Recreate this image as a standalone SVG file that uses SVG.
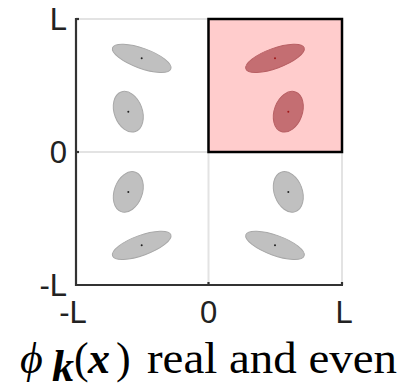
<svg xmlns="http://www.w3.org/2000/svg" width="402" height="391" viewBox="0 0 402 391">
<style>
.grid{stroke:#e3e3e3;stroke-width:2;fill:none}
.axis{stroke:#333;stroke-width:2.2;fill:none}
.g{fill:#c0c0c0;stroke:#a8a8a8;stroke-width:1}
.r{fill:#c46e72;stroke:#b86064;stroke-width:1}
.gd{fill:#222}
.rd{fill:#a01818}
.tick{font-family:"Liberation Sans",Arial,sans-serif;font-size:31px;fill:#222}
.cap{font-family:"Liberation Serif","DejaVu Serif",serif;font-size:44px;fill:#000}
</style>
<rect width="402" height="391" fill="#fff"/>
<g id="grid">
<line class="grid" x1="76" y1="19" x2="342" y2="19"/>
<line class="grid" x1="342" y1="19" x2="342" y2="285"/>
<line class="grid" x1="208.5" y1="19" x2="208.5" y2="285"/>
<line class="grid" x1="76" y1="152" x2="342" y2="152"/>
</g>
<g id="highlight">
<rect x="208.5" y="19" width="133.5" height="133" fill="#ffcccc" stroke="#000" stroke-width="2.5"/>
</g>
<g id="axes">
<line class="axis" x1="76" y1="18" x2="76" y2="286"/>
<line class="axis" x1="75" y1="285" x2="343" y2="285"/>
<line class="axis" x1="208.5" y1="285" x2="208.5" y2="282"/>
<line class="axis" x1="342" y1="285" x2="342" y2="282"/>
<line class="axis" x1="76" y1="152" x2="79" y2="152"/>
<line class="axis" x1="76" y1="19" x2="79" y2="19"/>
</g>
<g id="q-tl">
<ellipse class="g" cx="141.7" cy="58.3" rx="31" ry="10" transform="rotate(20 141.7 58.3)"/>
<circle class="gd" cx="141.7" cy="58.3" r="1"/>
<ellipse class="g" cx="128.3" cy="111.7" rx="14" ry="21" transform="rotate(-20 128.3 111.7)"/>
<circle class="gd" cx="128.3" cy="111.7" r="1"/>
</g>
<g id="q-tr">
<ellipse class="r" cx="275" cy="58.3" rx="31" ry="10" transform="rotate(-20 275 58.3)"/>
<circle class="rd" cx="275" cy="58.3" r="1"/>
<ellipse class="r" cx="288.3" cy="111.7" rx="14" ry="21" transform="rotate(20 288.3 111.7)"/>
<circle class="rd" cx="288.3" cy="111.7" r="1"/>
</g>
<g id="q-bl">
<ellipse class="g" cx="141.7" cy="245.3" rx="31" ry="10" transform="rotate(-20 141.7 245.3)"/>
<circle class="gd" cx="141.7" cy="245.3" r="1"/>
<ellipse class="g" cx="128.3" cy="191.9" rx="14" ry="21" transform="rotate(20 128.3 191.9)"/>
<circle class="gd" cx="128.3" cy="191.9" r="1"/>
</g>
<g id="q-br">
<ellipse class="g" cx="275" cy="245.3" rx="31" ry="10" transform="rotate(20 275 245.3)"/>
<circle class="gd" cx="275" cy="245.3" r="1"/>
<ellipse class="g" cx="288.3" cy="191.9" rx="14" ry="21" transform="rotate(-20 288.3 191.9)"/>
<circle class="gd" cx="288.3" cy="191.9" r="1"/>
</g>
<g id="ylabels" text-anchor="end">
<text class="tick" x="67" y="30">L</text>
<text class="tick" x="67" y="163">0</text>
<text class="tick" x="67" y="296">-L</text>
</g>
<g id="xlabels" text-anchor="middle">
<text class="tick" x="73" y="323">-L</text>
<text class="tick" x="208.5" y="323">0</text>
<text class="tick" x="344" y="323">L</text>
</g>
<g id="caption">
<text class="cap" x="20" y="373" font-style="italic">ϕ</text>
<text class="cap" x="52" y="381" font-size="21" font-style="italic" font-weight="bold">k</text>
<text class="cap" x="74" y="373" font-size="42">(</text>
<text class="cap" x="88" y="373" font-size="40" font-style="italic" font-weight="bold">x</text>
<text class="cap" x="116" y="373" font-size="42">)</text>
<text class="cap" x="147" y="373" textLength="250" lengthAdjust="spacingAndGlyphs">real and even</text>
</g>
</svg>
